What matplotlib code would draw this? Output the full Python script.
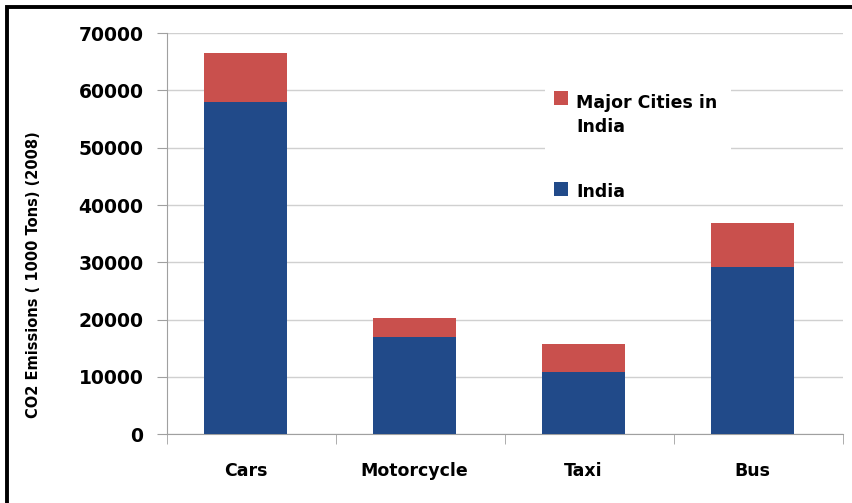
import matplotlib
matplotlib.use('Agg')
import matplotlib.pyplot as plt
from matplotlib.patches import Rectangle

# values (1000 tons, 2008)
categories = ['Cars', 'Motorcycle', 'Taxi', 'Bus']
india = [58000, 16900, 10800, 29100]
major_cities = [8500, 3300, 4900, 7700]
yticks = [0, 10000, 20000, 30000, 40000, 50000, 60000, 70000]

blue = '#214A89'
red = '#C9504D'

plt.rcParams['font.family'] = ['DejaVu Sans']
plt.rcParams['font.weight'] = 'bold'

fig = plt.figure(figsize=(8.52, 5.03), dpi=100)
ax = fig.add_axes([0.196, 0.137, 0.793, 0.797])

x = list(range(len(categories)))
xb = [i - 0.035 for i in x]
ax.bar(xb, india, width=0.49, color=blue, zorder=3)
ax.bar(xb, major_cities, width=0.49, bottom=india, color=red, zorder=3)

ax.set_xlim(-0.5, len(categories) - 0.5)
ax.set_ylim(0, 70000)
ax.set_yticks(yticks)
ax.set_yticklabels([str(v) for v in yticks], fontsize=13.5, fontweight='bold')
ax.set_xticks(xb)
ax.set_xticklabels(categories, fontsize=12.5, fontweight='bold')
ax.tick_params(axis='x', length=0, pad=20)
ax.tick_params(axis='y', length=7, color='#A0A0A0', pad=10)
# category boundary ticks
ax.set_xticks([i - 0.5 for i in range(len(categories) + 1)], minor=True)
ax.tick_params(axis='x', which='minor', length=7, color='#A0A0A0')

ax.grid(axis='y', color='#D0D0D0', linewidth=1.0, zorder=0)
for s in ['top', 'right']:
    ax.spines[s].set_visible(False)
ax.spines['left'].set_color('#A0A0A0')
ax.spines['bottom'].set_color('#A0A0A0')

ax.set_ylabel('CO2 Emissions ( 1000 Tons) (2008)', fontsize=10.5, fontweight='bold')
ax.yaxis.set_label_coords(-0.186, 0.397)

# legend box drawn over the gridlines
ax.add_patch(Rectangle((0.56, 0.58), 0.275, 0.36, transform=ax.transAxes,
                       facecolor='white', edgecolor='none', zorder=4))
ax.add_patch(Rectangle((0.573, 0.822), 0.021, 0.034, transform=ax.transAxes,
                       facecolor=red, edgecolor='none', zorder=5))
ax.text(0.606, 0.848, 'Major Cities in\nIndia', transform=ax.transAxes, fontsize=12.5,
        fontweight='bold', va='top', ha='left', linespacing=1.45, zorder=6)
ax.add_patch(Rectangle((0.573, 0.594), 0.021, 0.034, transform=ax.transAxes,
                       facecolor=blue, edgecolor='none', zorder=5))
ax.text(0.606, 0.603, 'India', transform=ax.transAxes, fontsize=12.5,
        fontweight='bold', va='center', ha='left', zorder=6)

# frame around the picture
fig.patches.append(Rectangle((0.008, -0.1), 1.2, 1.086, transform=fig.transFigure,
                             facecolor='none', edgecolor='black', linewidth=2.8))

fig.savefig('out.png', dpi=100)
